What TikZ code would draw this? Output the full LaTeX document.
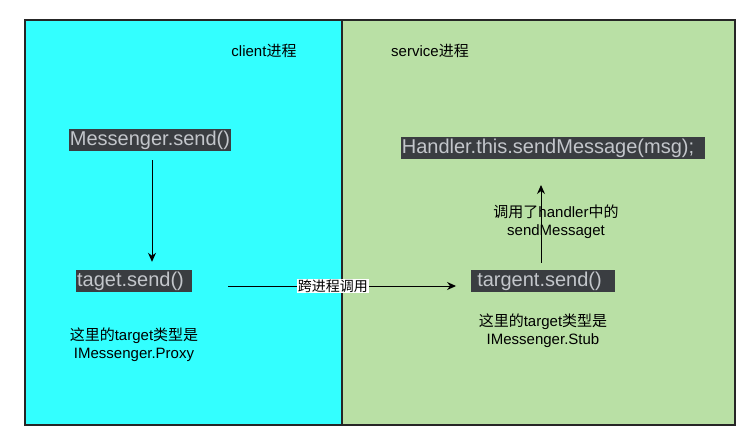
\documentclass[tikz,border=0pt]{standalone}
\usepackage{fontspec}
\setmainfont{Liberation Sans}
\newfontfamily\cjk{Noto Sans CJK SC}
\usetikzlibrary{arrows.meta, positioning}
\definecolor{clientbg}{HTML}{33FFFF}
\definecolor{servicebg}{HTML}{B9E0A5}
\definecolor{codebg}{HTML}{3A3D41}
\definecolor{codefg}{HTML}{C3C6CB}
\newcommand{\gap}[1]{\rule{#1}{0pt}}
\tikzset{
  panel/.style={draw=black!85, line width=1.2pt},
  code/.style={fill=codebg, text=codefg, font=\fontsize{20}{22}\selectfont,
    inner xsep=1pt, inner ysep=1.25pt, text height=15pt, text depth=4.5pt},
  note/.style={font=\fontsize{15}{18}\selectfont, align=center, inner sep=0pt},
  call/.style={-{Stealth[length=9pt,width=8pt]}, line width=1pt},
}

\begin{document}
\begin{tikzpicture}[x=1pt, y=-1pt]
\useasboundingbox (0,0) rectangle (752,441);

% the two processes
\fill[clientbg] (25,20) rectangle (342,425);
\fill[servicebg] (342,20) rectangle (735,425);
\draw[panel] (25,20) rectangle (342,425);
\draw[panel] (342,20) rectangle (735,425);
\node[note] (client) at (264,51) {client{\cjk 进程}};
\node[note] (service) at (430,51) {service{\cjk 进程}};

% client side
\node[code] (msend) at (150,140) {Messenger.send()};
\node[code] (tsend) at (134,281) {taget.send()\gap{7pt}};
\node[note, below=53pt of tsend.south, anchor=center] (proxy)
  {{\cjk 这里的}target{\cjk 类型是}\\IMessenger.Proxy};

% service side
\node[code] (hsend) at (553,148) {Handler.this.sendMessage(msg);\gap{10pt}};
\node[code] (rsend) at (543,281) {\gap{5pt}targent.send()\gap{12pt}};
\node[note, below=39pt of rsend.south, anchor=center] (stub)
  {{\cjk 这里的}target{\cjk 类型是}\\IMessenger.Stub};
\coordinate (hcall) at (541,185);
\node[note] (handler) at (556,222) {{\cjk 调用了}handler{\cjk 中的}\\sendMessaget};

% calls
\draw[call] ([xshift=2pt,yshift=-9pt]msend.south) -- ([xshift=18pt,yshift=8pt]tsend.north);
\draw[call] ([xshift=36pt,yshift=-5pt]tsend.east) -- ([xshift=-15pt,yshift=-5pt]rsend.west)
  node[pos=0.46, fill=white, inner sep=1pt, font=\fontsize{14}{16}\selectfont\cjk] {跨进程调用};
\draw[call] ([xshift=-2pt,yshift=7pt]rsend.north) -- (hcall);

\end{tikzpicture}
\end{document}
